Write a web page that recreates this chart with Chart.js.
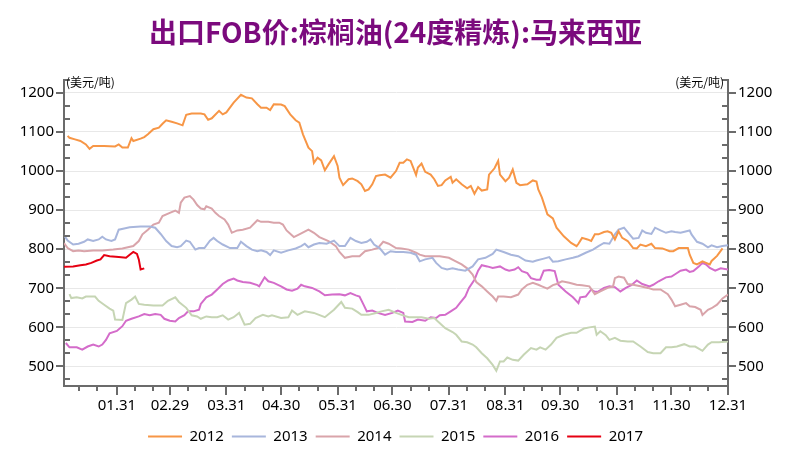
<!DOCTYPE html>
<html>
<head>
<meta charset="utf-8">
<script src="https://cdn.jsdelivr.net/npm/chart.js@4.4.1/dist/chart.umd.min.js"></script>
<style>
  body { margin: 0; background: #fff; }
  #wrap { width: 791px; height: 454px; }
</style>
</head>
<body>
<div id="wrap"><canvas id="chart" width="791" height="454"></canvas></div>
<script>
// x = day of year (leap-year calendar, like the 02.29 tick), y = USD/t
const monthEnds = [31, 60, 91, 121, 152, 182, 213, 244, 274, 305, 335, 366];
const monthLabels = ['01.31', '02.29', '03.31', '04.30', '05.31', '06.30', '07.31', '08.31', '09.30', '10.31', '11.30', '12.31'];
const yTicks = [500, 600, 700, 800, 900, 1000, 1100, 1200];
const unitLabel = '(美元/吨)';
const titleText = '出口FOB价:棕榈油(24度精炼):马来西亚';

const d2012 = [4,5,8,11,14,16,18,24,30,32,34,37,39,40,44,46,48,51,54,56,58,61,64,67,69,72,77,79,81,83,87,89,91,95,99,102,105,108,110,113,115,117,121,123,126,129,131,133,136,138,139,141,143,145,147,150,152,153,155,158,160,163,165,167,169,171,173,175,178,181,184,186,188,190,192,195,196,198,200,203,205,207,209,211,214,215,217,220,223,225,227,229,231,234,235,238,240,241,244,246,248,250,252,256,259,261,262,264,267,270,272,276,280,283,284,286,289,291,293,295,298,300,302,304,306,308,311,314,316,318,321,324,326,330,334,336,339,344,345,347,349,352,354,356,357,360,363];
const v2012 = [1090,1085,1081,1077,1068,1057,1064,1064,1063,1068,1060,1060,1084,1077,1083,1087,1094,1107,1111,1121,1130,1126,1122,1117,1144,1147,1147,1145,1131,1135,1154,1145,1150,1175,1195,1188,1186,1171,1162,1162,1156,1171,1170,1166,1145,1130,1124,1094,1060,1051,1021,1034,1027,1002,1017,1038,1013,983,964,979,981,974,966,949,953,966,987,989,991,983,1000,1021,1021,1030,1026,990,1009,1019,998,991,979,962,964,976,985,970,979,966,956,962,942,959,950,953,991,1007,1026,991,974,983,1004,970,964,966,976,973,953,932,889,879,855,833,816,808,814,829,825,821,838,838,844,846,842,825,846,829,821,803,802,812,808,814,803,802,795,795,803,803,786,765,761,769,765,761,770,783,802];

const d2013 = [2,4,7,10,13,15,18,21,23,25,28,30,32,35,38,44,49,52,55,58,61,64,66,69,71,74,76,79,82,84,86,89,93,97,99,102,105,108,110,113,115,117,121,125,129,132,134,136,139,142,146,150,153,156,159,162,165,168,170,172,175,178,181,184,188,192,195,197,200,204,206,209,212,215,218,222,226,229,233,237,239,243,247,251,255,259,261,265,268,270,273,277,281,284,288,292,295,298,301,304,306,309,312,314,317,319,321,324,326,329,332,335,337,340,345,346,349,352,355,357,360,363,366];
const v2013 = [836,822,812,814,819,825,821,825,832,825,821,825,850,853,856,858,858,855,839,821,808,805,808,822,819,799,803,803,822,829,821,812,803,803,819,808,799,795,797,793,785,797,791,797,802,808,814,805,812,816,814,822,808,808,829,821,816,819,825,812,803,786,795,793,793,791,786,769,774,778,765,752,748,751,748,745,756,774,778,788,799,793,786,782,771,768,771,776,780,768,769,774,778,782,791,799,808,816,814,838,850,855,838,827,829,848,842,839,855,848,842,846,844,842,848,838,819,814,805,810,805,808,810];

const d2014 = [2,4,7,10,13,18,23,29,34,40,43,45,48,51,54,56,60,63,65,66,68,71,73,75,77,79,80,83,85,87,90,92,94,97,100,104,108,110,114,117,120,122,124,128,131,136,139,142,147,151,153,156,160,164,167,171,174,177,180,184,187,191,195,197,200,204,208,213,216,220,223,226,228,231,234,237,239,240,243,247,251,253,256,259,262,264,267,270,272,275,279,283,286,290,293,296,300,303,304,306,309,311,314,318,322,325,329,333,335,337,340,343,345,348,351,352,355,357,360,363,366];
const v2014 = [816,803,795,797,795,797,797,799,802,808,821,838,850,863,868,885,893,899,893,919,932,936,927,913,904,902,910,904,893,885,876,863,842,848,850,855,874,870,870,868,868,863,848,831,838,850,842,831,821,808,793,778,782,782,795,799,803,819,814,803,802,799,791,786,782,782,782,778,771,761,751,735,716,705,692,679,668,679,679,677,684,697,709,714,709,705,699,708,711,718,714,709,708,705,685,692,701,705,726,730,727,711,709,705,701,697,697,685,671,654,658,662,654,652,645,632,645,649,658,674,684];

const d2015 = [5,6,9,12,14,19,21,24,27,29,30,34,36,39,41,43,46,51,56,59,63,65,69,72,75,77,80,83,86,89,92,95,98,101,104,107,111,114,116,121,125,127,130,134,139,145,150,154,156,160,163,165,169,173,176,180,184,187,191,195,198,202,205,207,211,215,217,220,223,226,228,231,234,237,239,241,243,245,248,251,254,258,261,263,266,269,272,276,280,283,287,290,293,294,296,299,301,304,307,311,314,318,322,325,329,332,335,338,342,345,348,352,355,357,361,366];
const v2015 = [685,675,677,674,679,679,668,658,648,643,620,619,662,671,679,660,658,656,656,668,677,665,650,631,628,622,628,626,626,631,620,626,637,607,609,624,632,628,631,624,626,643,632,641,637,626,645,665,650,648,639,632,632,637,641,645,637,632,626,626,626,622,624,615,598,588,581,564,562,556,549,534,521,504,489,513,513,523,517,515,530,547,543,549,543,556,573,581,586,586,597,600,602,581,590,580,568,573,566,564,564,551,537,534,534,549,549,551,557,551,551,540,556,562,562,564];

const d2016 = [3,5,9,12,15,18,21,23,25,27,31,34,36,39,43,46,49,52,55,57,60,63,65,68,70,73,76,77,80,83,86,89,92,95,97,100,104,108,109,112,114,117,121,124,127,130,132,134,138,142,145,149,153,156,159,162,164,166,168,171,174,178,182,185,188,189,193,196,200,203,206,208,211,214,217,219,222,224,227,229,231,234,237,239,241,244,246,249,251,253,256,258,261,263,265,268,271,273,277,281,284,285,288,291,293,295,298,301,304,307,310,313,316,319,323,325,328,332,335,337,340,343,345,347,350,352,354,356,359,362,366];
const v2016 = [560,549,549,543,551,556,551,556,568,585,591,603,617,622,628,634,631,634,632,622,617,615,624,631,641,641,645,660,677,684,697,711,720,725,720,716,714,708,705,728,718,714,705,697,694,699,709,705,701,692,682,684,685,682,688,682,679,660,641,643,637,632,637,643,637,615,614,620,617,626,624,631,632,641,650,662,679,701,722,745,759,756,752,754,756,748,745,748,754,744,739,726,722,722,745,747,744,709,692,677,662,677,679,697,691,692,701,705,703,692,701,708,720,711,705,709,718,728,730,736,745,748,742,744,756,765,761,752,745,751,748];

const d2017 = [2,7,11,14,17,20,22,24,27,32,36,38,40,42,43,44,46];
const v2017 = [755,756,759,761,765,771,774,785,782,780,778,786,793,788,774,748,751];

const series = [
  { label: '2012', days: d2012, vals: v2012, color: '#f79646' },
  { label: '2013', days: d2013, vals: v2013, color: '#a8b6dc' },
  { label: '2014', days: d2014, vals: v2014, color: '#d9a4aa' },
  { label: '2015', days: d2015, vals: v2015, color: '#c6d5b4' },
  { label: '2016', days: d2016, vals: v2016, color: '#d46cca' },
  { label: '2017', days: d2017, vals: v2017, color: '#e60012' }
];

// minor ticks: 10th and 20th of each month; y minors at thirds of 100
const monthStarts = [0].concat(monthEnds.slice(0, -1));
const xMinor = [];
monthStarts.forEach(s => { xMinor.push(s + 10, s + 20); });
const yMinor = [];
for (let k = 0; k <= 23; k++) {
  const v = 466.6667 + k * 33.3333;
  if (k % 3 !== 1) yMinor.push(v);
}

const axisColor = '#6b6b6b';

const tickMarks = {
  id: 'tickMarks',
  afterDraw(chart) {
    const { ctx, chartArea: a, scales: { x, y } } = chart;
    ctx.save();
    ctx.strokeStyle = axisColor;
    ctx.lineWidth = 2;
    ctx.beginPath();
    yMinor.forEach(v => {
      const py = Math.round(y.getPixelForValue(v));
      ctx.moveTo(a.left, py); ctx.lineTo(a.left + 6, py);
      ctx.moveTo(a.right - 6, py); ctx.lineTo(a.right, py);
    });
    yTicks.forEach(v => {
      const py = Math.round(y.getPixelForValue(v));
      ctx.moveTo(a.left - 8, py); ctx.lineTo(a.left, py);
      ctx.moveTo(a.right, py); ctx.lineTo(a.right + 8, py);
    });
    xMinor.forEach(d => {
      const px = Math.round(x.getPixelForValue(d));
      ctx.moveTo(px, a.bottom); ctx.lineTo(px, a.bottom + 5);
    });
    monthEnds.forEach(d => {
      const px = Math.round(x.getPixelForValue(d));
      ctx.moveTo(px, a.bottom); ctx.lineTo(px, a.bottom + 9);
    });
    ctx.stroke();

    ctx.fillStyle = '#000';
    ctx.font = '12px "Noto Sans CJK SC"';
    ctx.textBaseline = 'middle';
    ctx.textAlign = 'left';
    ctx.fillText(unitLabel, a.left + 2, a.top + 3);
    ctx.textAlign = 'right';
    ctx.fillText(unitLabel, a.right - 4, a.top + 3);
    ctx.restore();
  }
};

Chart.defaults.font.family = '"Noto Sans", "Noto Sans CJK SC", sans-serif';
Chart.defaults.color = '#000';

const yScale = (pos) => ({
  type: 'linear',
  position: pos,
  min: 450,
  max: 1234,
  afterBuildTicks: s => { s.ticks = yTicks.map(v => ({ value: v })); },
  afterFit: s => { s.width = pos === 'left' ? 64 : 63; },
  ticks: { callback: v => String(v), font: { size: 15 }, padding: 10 },
  grid: { display: pos === 'left', color: '#e8e8e8', lineWidth: 1, drawTicks: false },
  border: { display: true, color: axisColor, width: 2 }
});

new Chart(document.getElementById('chart'), {
  type: 'line',
  data: {
    datasets: series.map(s => ({
      label: s.label,
      data: s.days.map((d, i) => ({ x: d, y: s.vals[i] })),
      borderColor: s.color,
      backgroundColor: s.color,
      borderWidth: 2,
      pointRadius: 0,
      tension: 0,
      yAxisID: 'y'
    }))
  },
  options: {
    responsive: false,
    animation: false,
    layout: { padding: 0 },
    scales: {
      x: {
        type: 'linear',
        min: 2,
        max: 366,
        afterBuildTicks: s => { s.ticks = monthEnds.map(v => ({ value: v })); },
        afterFit: s => { s.height = 35; },
        ticks: {
          autoSkip: false,
          maxRotation: 0,
          font: { size: 15 },
          padding: 11,
          callback: (v, i) => monthLabels[i]
        },
        grid: { display: false, drawTicks: false },
        border: { display: true, color: axisColor, width: 2 }
      },
      y: yScale('left'),
      y2: yScale('right')
    },
    plugins: {
      title: {
        display: true,
        text: titleText,
        color: '#7b0a7d',
        font: { size: 28, weight: 'bold', family: '"Noto Sans CJK SC", sans-serif' },
        padding: { top: 16, bottom: 30 }
      },
      legend: {
        position: 'bottom',
        labels: {
          usePointStyle: true,
          pointStyle: 'line',
          pointStyleWidth: 34,
          font: { size: 15 },
          padding: 8
        }
      },
      tooltip: { enabled: false }
    }
  },
  plugins: [tickMarks]
});
</script>
</body>
</html>
